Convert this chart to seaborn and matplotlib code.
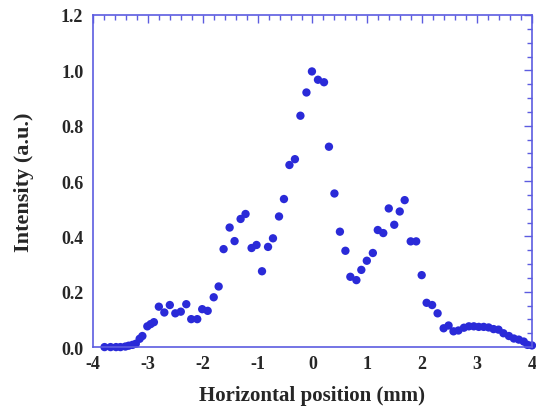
import matplotlib
matplotlib.use("Agg")
import matplotlib.pyplot as plt
from matplotlib.ticker import MultipleLocator, FormatStrFormatter
import seaborn as sns
import pandas as pd

position_mm = [-3.79, -3.68, -3.58, -3.50, -3.41, -3.35, -3.28, -3.22, -3.15, -3.10,
               -3.01, -2.95, -2.89, -2.80, -2.70, -2.60, -2.50, -2.40, -2.30, -2.21,
               -2.10, -2.01, -1.91, -1.80, -1.71, -1.62, -1.51, -1.42, -1.31, -1.22,
               -1.11, -1.02, -0.92, -0.81, -0.72, -0.61, -0.52, -0.42, -0.32, -0.22,
               -0.11, -0.01, 0.10, 0.21, 0.30, 0.40, 0.50, 0.60, 0.69, 0.80,
               0.89, 0.99, 1.10, 1.19, 1.29, 1.39, 1.49, 1.59, 1.68, 1.79,
               1.89, 1.99, 2.08, 2.18, 2.28, 2.39, 2.48, 2.57, 2.66, 2.76,
               2.85, 2.94, 3.03, 3.12, 3.21, 3.30, 3.39, 3.48, 3.58, 3.67,
               3.76, 3.85, 3.92, 4.00]
intensity = [0.0, 0.0, 0.0, 0.0, 0.002, 0.005, 0.008, 0.012, 0.030, 0.040,
             0.075, 0.083, 0.090, 0.146, 0.125, 0.152, 0.122, 0.128, 0.155, 0.101,
             0.101, 0.137, 0.131, 0.180, 0.219, 0.354, 0.432, 0.383, 0.463, 0.481,
             0.358, 0.369, 0.274, 0.362, 0.393, 0.472, 0.535, 0.658, 0.679, 0.836,
             0.920, 0.996, 0.966, 0.957, 0.724, 0.555, 0.417, 0.348, 0.254, 0.242,
             0.279, 0.312, 0.340, 0.423, 0.412, 0.501, 0.442, 0.490, 0.531, 0.382,
             0.382, 0.260, 0.160, 0.152, 0.122, 0.068, 0.078, 0.057, 0.060, 0.070,
             0.075, 0.075, 0.073, 0.073, 0.071, 0.065, 0.063, 0.050, 0.040, 0.031,
             0.027, 0.020, 0.008, 0.006]

x_ticks = [-4, -3, -2, -1, 0, 1, 2, 3, 4]
y_ticks = [0.0, 0.2, 0.4, 0.6, 0.8, 1.0, 1.2]

df = pd.DataFrame({"x": position_mm, "y": intensity})

sns.set_style("white")
plt.rcParams["font.family"] = ["Liberation Serif", "DejaVu Serif"]
plt.rcParams["axes.unicode_minus"] = False

fig = plt.figure(figsize=(5.36, 4.10), dpi=100)
ax = fig.add_axes([0.1735, 0.151, 0.819, 0.810])

sns.scatterplot(data=df, x="x", y="y", ax=ax, color="#2a2ad8", s=36,
                edgecolor="none", linewidth=0, legend=False, clip_on=False)

frame = "#5c5ce0"
for sp in ax.spines.values():
    sp.set_color(frame)
    sp.set_linewidth(1.2)

ax.set_xlim(-4, 4)
ax.set_ylim(0, 1.2)
ax.set_xticks(x_ticks)
ax.set_yticks(y_ticks)
ax.xaxis.set_minor_locator(MultipleLocator(0.2))
ax.yaxis.set_minor_locator(MultipleLocator(0.05))
ax.yaxis.set_major_formatter(FormatStrFormatter("%.1f"))
ax.tick_params(which="both", direction="in", color=frame, top=True, right=True,
               labelsize=13, width=1)
ax.tick_params(which="major", length=6)
ax.tick_params(which="minor", length=3.5)
ax.tick_params(axis="x", which="major", pad=6)
ax.tick_params(axis="y", which="major", pad=7)
for lab in ax.get_xticklabels() + ax.get_yticklabels():
    lab.set_fontweight("bold")

ax.set_xlabel("Horizontal position (mm)", fontsize=15, fontweight="bold", va="center")
ax.set_ylabel("Intensity (a.u.)", fontsize=16, fontweight="bold", va="center")
ax.xaxis.set_label_coords(0.5, -0.145)
ax.yaxis.set_label_coords(-0.157, 0.5)

fig.savefig("out.png", dpi=100)
